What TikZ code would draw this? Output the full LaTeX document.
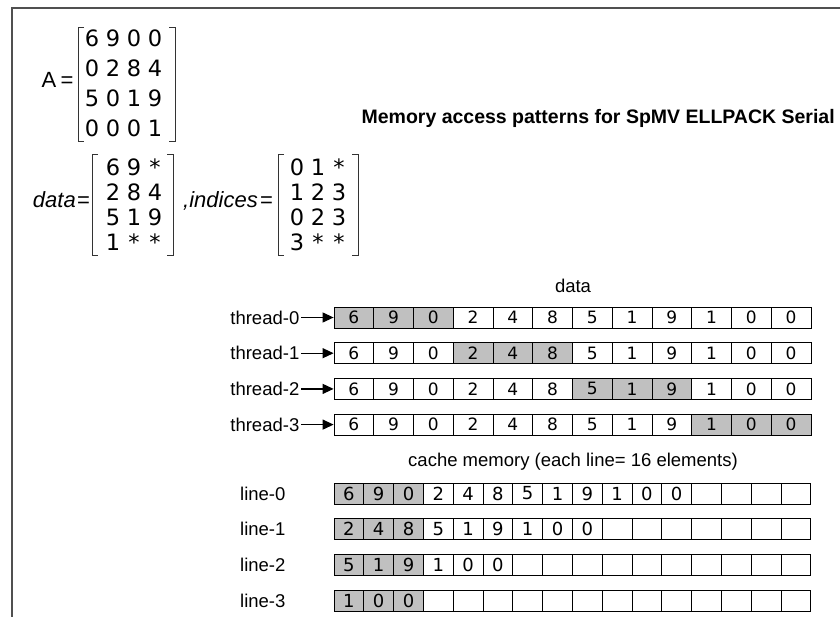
\documentclass[tikz,border=0pt]{standalone}
\usepackage{fontspec}
\setmainfont{Liberation Sans}
\newfontfamily\digitfont{DejaVu Sans}
\usetikzlibrary{arrows.meta}
\definecolor{shade}{RGB}{192,192,192}
\definecolor{framec}{RGB}{80,80,80}
\tikzset{
  cellT/.style={draw=black, line width=0.8bp, minimum width=39.75bp, minimum height=21bp, inner sep=0pt, anchor=center, font=\digitfont\fontsize{17bp}{17bp}\selectfont},
  cellC/.style={draw=black, line width=0.8bp, minimum width=29.8bp, minimum height=21bp, inner sep=0pt, anchor=center, font=\digitfont\fontsize{18bp}{18bp}\selectfont},
  lab/.style={font=\fontsize{18.5bp}{20bp}\selectfont, inner sep=1.5bp},
  arr/.style={line width=1.2bp, -{Triangle[length=11bp,width=10bp]}},
  ment/.style={font=\digitfont\fontsize{22.5bp}{23bp}\selectfont, inner sep=0pt},
  mtxt/.style={font=\fontsize{22bp}{22bp}\selectfont, inner sep=0pt, anchor=base},
  brk/.style={line width=1bp, draw=black!80},
}
\begin{document}
\begin{tikzpicture}[x=1bp,y=-1bp]
\useasboundingbox (0,0) rectangle (840,617);
% frame
\draw[line width=2bp, framec] (11.5,617) -- (11.5,8.5) -- (840,8.5);

% matrix A
\node[mtxt] (Aname) at (49,88) {A};
\node[mtxt] (Aeq) at (67,88) {=};
\draw[brk] (84,28) -- (78,28) -- (78,142) -- (84,142);
\draw[brk] (169,28) -- (175,28) -- (175,142) -- (169,142);
\foreach \row [count=\r from 0] in {{6,9,0,0},{0,2,8,4},{5,0,1,9},{0,0,0,1}}{
  \foreach \v [count=\c from 0] in \row {
    \node[ment] (A\r-\c) at ({92+21*\c},{38+30*\r}) {\vphantom{0}\v};
  }
}

% data matrix
\node[mtxt, anchor=base east, font=\itshape\fontsize{22bp}{22bp}\selectfont] (dname) at (76,208) {data};
\node[mtxt] (deq) at (83.5,208) {=};
\draw[brk] (98,155) -- (92,155) -- (92,255) -- (98,255);
\draw[brk] (167,155) -- (173,155) -- (173,255) -- (167,255);
\foreach \row [count=\r from 0] in {{6,9,*},{2,8,4},{5,1,9},{1,*,*}}{
  \foreach \v [count=\c from 0] in \row {
    \node[ment] (D\r-\c) at ({113+21*\c},{167+25*\r}) {\vphantom{0}\v};
  }
}

% indices matrix
\node[mtxt, anchor=base east, font=\itshape\fontsize{22bp}{22bp}\selectfont] (iname) at (258,208) {,indices};
\node[mtxt] (ieq) at (266.5,208) {=};
\draw[brk] (284,155) -- (278,155) -- (278,255) -- (284,255);
\draw[brk] (352,155) -- (358,155) -- (358,255) -- (352,255);
\foreach \row [count=\r from 0] in {{0,1,*},{1,2,3},{0,2,3},{3,*,*}}{
  \foreach \v [count=\c from 0] in \row {
    \node[ment] (I\r-\c) at ({297+21*\c},{167+25*\r}) {\vphantom{0}\v};
  }
}

% title
\node[font=\bfseries\fontsize{19.5bp}{21bp}\selectfont, anchor=east, inner sep=0pt] (title) at (835,118) {Memory access patterns for SpMV ELLPACK Serial};

% data label
\node[lab] (datalab) at (573,286) {data};

% thread rows
\foreach \r in {0,1,2,3}{
  \pgfmathtruncatemacro\lo{3*\r}
  \pgfmathtruncatemacro\hi{3*\r+2}
  \foreach \v [count=\i from 0] in {6,9,0,2,4,8,5,1,9,1,0,0}{
    \ifnum\i<\lo \def\f{white}\else\ifnum\i>\hi \def\f{white}\else\def\f{shade}\fi\fi
    \node[cellT, fill=\f] (t\r-\i) at ({334+39.75*(\i+0.5)},{317.5+35.7*\r}) {\v};
  }
  \node[lab, anchor=east] (th\r) at (301,{317.5+35.7*\r}) {thread-\r};
  \draw[arr] (th\r.east) -- (t\r-0.west);
}

% cache label
\node[lab] (cachelab) at (573,462) {cache memory (each line= 16 elements)};

% cache rows
\foreach \r in {0,1,2,3}{
  \foreach \i in {0,...,15}{
    \pgfmathtruncatemacro\k{3*\r+\i}
    \ifnum\k<12 \pgfmathtruncatemacro\v{{6,9,0,2,4,8,5,1,9,1,0,0}[\k]}\else\def\v{}\fi
    \ifnum\i<3 \def\f{shade}\else\def\f{white}\fi
    \node[cellC, fill=\f] (m\r-\i) at ({334+29.8*(\i+0.5)},{493.5+35.8*\r}) {\v};
  }
  \node[lab, anchor=west] (ln\r) at (238.5,{493.5+35.8*\r}) {line-\r};
}
\end{tikzpicture}
\end{document}
